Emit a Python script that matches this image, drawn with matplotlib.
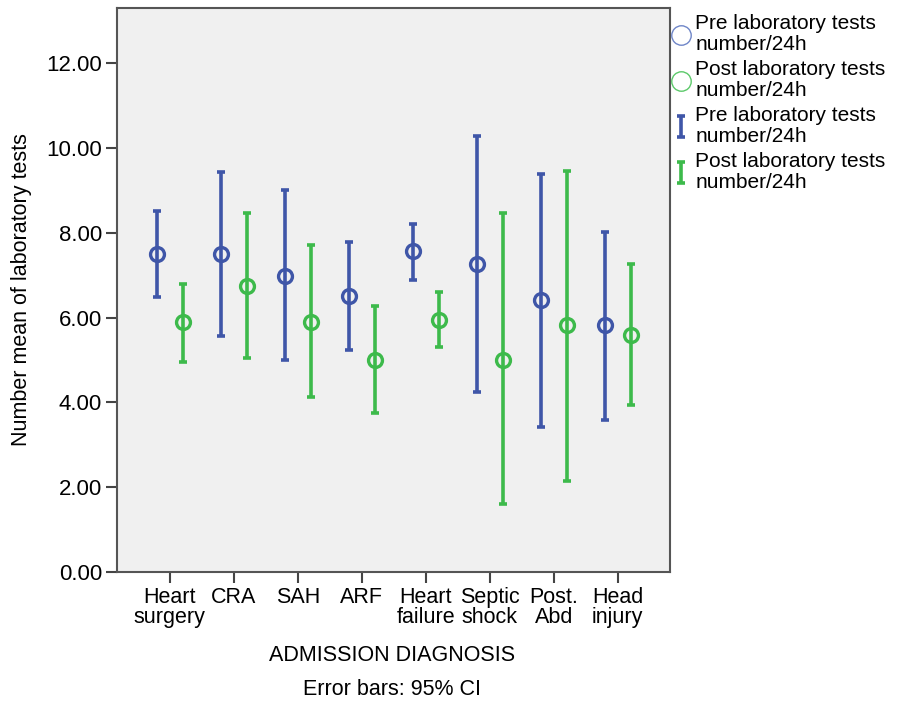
import numpy as np
import matplotlib.pyplot as plt
from matplotlib.ticker import FormatStrFormatter
from matplotlib.lines import Line2D

plt.rcParams['font.family'] = ['Liberation Sans', 'DejaVu Sans']

# Dane
categories = ['Heart\nsurgery', 'CRA', 'SAH', 'ARF', 'Heart\nfailure',
              'Septic\nshock', 'Post.\nAbd', 'Head\ninjury']
pre_mean = [7.50, 7.50, 6.98, 6.51, 7.57, 7.26, 6.42, 5.83]
pre_low = [6.49, 5.57, 5.00, 5.24, 6.89, 4.25, 3.42, 3.58]
pre_high = [8.51, 9.43, 9.01, 7.78, 8.21, 10.28, 9.39, 8.02]
post_mean = [5.90, 6.75, 5.90, 5.00, 5.94, 5.00, 5.83, 5.59]
post_low = [4.95, 5.05, 4.13, 3.75, 5.31, 1.60, 2.15, 3.94]
post_high = [6.79, 8.47, 7.71, 6.27, 6.60, 8.47, 9.46, 7.26]
series_label = 'laboratory tests\nnumber/24h'

blue = '#3F56A8'
green = '#3DBA4B'

fig = plt.figure(figsize=(9.02, 7.04), dpi=100)
ax = fig.add_axes([0.130, 0.1875, 0.613, 0.801])
ax.set_facecolor('#F0F0F0')

x = np.arange(len(categories))
off = 0.205

def draw(xpos, mean, low, high, color):
    mean = np.array(mean)
    err = [mean - np.array(low), np.array(high) - mean]
    eb = ax.errorbar(xpos, mean, yerr=err, fmt='none', ecolor=color,
                     elinewidth=2.6, capsize=3.2, capthick=2.6)
    sc, = ax.plot(xpos, mean, 'o', ms=10, mfc='none', mec=color, mew=2.4)
    return sc, eb

sc_pre, eb_pre = draw(x - off, pre_mean, pre_low, pre_high, blue)
sc_post, eb_post = draw(x + off, post_mean, post_low, post_high, green)

ax.set_xlim(-0.82, 7.82)
ax.set_ylim(0, 13.3)
ax.set_yticks(np.arange(0, 13, 2))
ax.yaxis.set_major_formatter(FormatStrFormatter('%.2f'))
ax.set_xticks(x)
ax.set_xticklabels(categories, linespacing=0.95)
ax.tick_params(axis='both', length=8, width=1.5,
               color='#444444', direction='out', pad=3)
ax.tick_params(axis='y', labelsize=16)
ax.tick_params(axis='x', labelsize=15.5)

for spine in ax.spines.values():
    spine.update({'edgecolor': '#555555', 'linewidth': 1.5})

ax.set_ylabel('Number mean of laboratory tests', fontsize=15.5, labelpad=10)
fig.text(0.435, 0.069, 'ADMISSION DIAGNOSIS', fontsize=15.5, ha='center', va='center')
fig.text(0.435, 0.020, 'Error bars: 95% CI', fontsize=15.5, ha='center', va='center')

# Legenda po prawej stronie
h_pre = Line2D([], [], ls='none', marker='o', ms=14, mfc='none', mec='#6F86C8', mew=1.0)
h_post = Line2D([], [], ls='none', marker='o', ms=14, mfc='none', mec='#5CC96A', mew=1.0)
leg = fig.legend([h_pre, h_post, eb_pre, eb_post],
                 ['Pre ' + series_label, 'Post ' + series_label,
                  'Pre ' + series_label, 'Post ' + series_label],
                 loc='upper left', bbox_to_anchor=(0.736, 0.992), frameon=False,
                 fontsize=15, handlelength=0.8, handleheight=0.5, handletextpad=0.3,
                 labelspacing=0.3, borderaxespad=0.0)
for t in leg.get_texts():
    t.set_linespacing(1.12)

fig.savefig('out.png', dpi=100)
